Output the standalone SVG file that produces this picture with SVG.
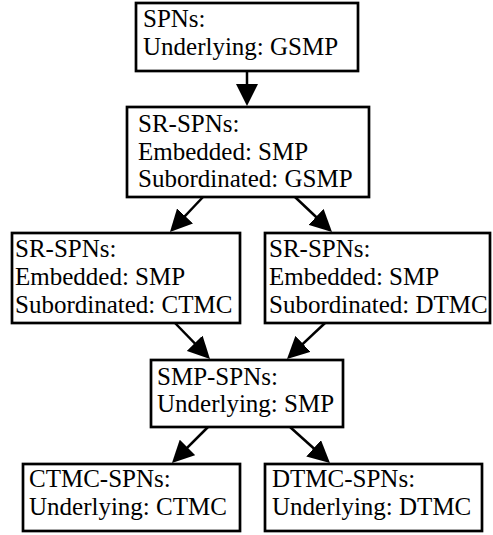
<svg xmlns="http://www.w3.org/2000/svg" width="493" height="535" viewBox="0 0 493 535">
<style>
.box{fill:#fff;stroke:#000;stroke-width:2.7}
.t{font-family:"Liberation Serif","Times New Roman",serif;font-size:25px;fill:#000}
.edge{stroke:#000;stroke-width:2.5;fill:none;marker-end:url(#ah)}
</style>
<defs>
<marker id="ah" viewBox="0 0 22 22" markerWidth="22" markerHeight="22" markerUnits="userSpaceOnUse" refX="18" refY="11" orient="auto">
<path d="M0,0 L22,11 L0,22 z" fill="#000"/>
</marker>
</defs>
<rect width="493" height="535" fill="#fff"/>
<g id="connectors">
<line class="edge" x1="247" y1="71" x2="247" y2="102"/>
<line class="edge" x1="203" y1="197" x2="172.7" y2="229.1"/>
<line class="edge" x1="295" y1="197" x2="329.1" y2="229.25"/>
<line class="edge" x1="175" y1="323" x2="207.2" y2="356.1"/>
<line class="edge" x1="325" y1="323" x2="289.9" y2="356.2"/>
<line class="edge" x1="208" y1="427" x2="174.8" y2="460.2"/>
<line class="edge" x1="290" y1="427" x2="327" y2="460.3"/>
</g>
<g id="spn">
<rect class="box" x="136" y="3" width="222" height="68"/>
<text class="t" x="143" y="27">SPNs:</text>
<text class="t" x="143" y="55">Underlying: GSMP</text>
</g>
<g id="srspn">
<rect class="box" x="127" y="107" width="242" height="90"/>
<text class="t" x="138" y="132">SR-SPNs:</text>
<text class="t" x="138" y="160">Embedded: SMP</text>
<text class="t" x="138" y="187">Subordinated: GSMP</text>
</g>
<g id="srspn-ctmc">
<rect class="box" x="12" y="233" width="228" height="90"/>
<text class="t" x="15" y="257">SR-SPNs:</text>
<text class="t" x="15" y="285">Embedded: SMP</text>
<text class="t" x="15" y="313">Subordinated: CTMC</text>
</g>
<g id="srspn-dtmc">
<rect class="box" x="265" y="233" width="225" height="90"/>
<text class="t" x="269" y="257">SR-SPNs:</text>
<text class="t" x="269" y="285">Embedded: SMP</text>
<text class="t" x="269" y="313">Subordinated: DTMC</text>
</g>
<g id="smpspn">
<rect class="box" x="151" y="360" width="192" height="67"/>
<text class="t" x="157" y="385">SMP-SPNs:</text>
<text class="t" x="157" y="412">Underlying: SMP</text>
</g>
<g id="ctmcspn">
<rect class="box" x="23" y="464" width="217" height="67"/>
<text class="t" x="29" y="487">CTMC-SPNs:</text>
<text class="t" x="29" y="515">Underlying: CTMC</text>
</g>
<g id="dtmcspn">
<rect class="box" x="265" y="464" width="217" height="67"/>
<text class="t" x="272" y="487">DTMC-SPNs:</text>
<text class="t" x="272" y="515">Underlying: DTMC</text>
</g>
</svg>
